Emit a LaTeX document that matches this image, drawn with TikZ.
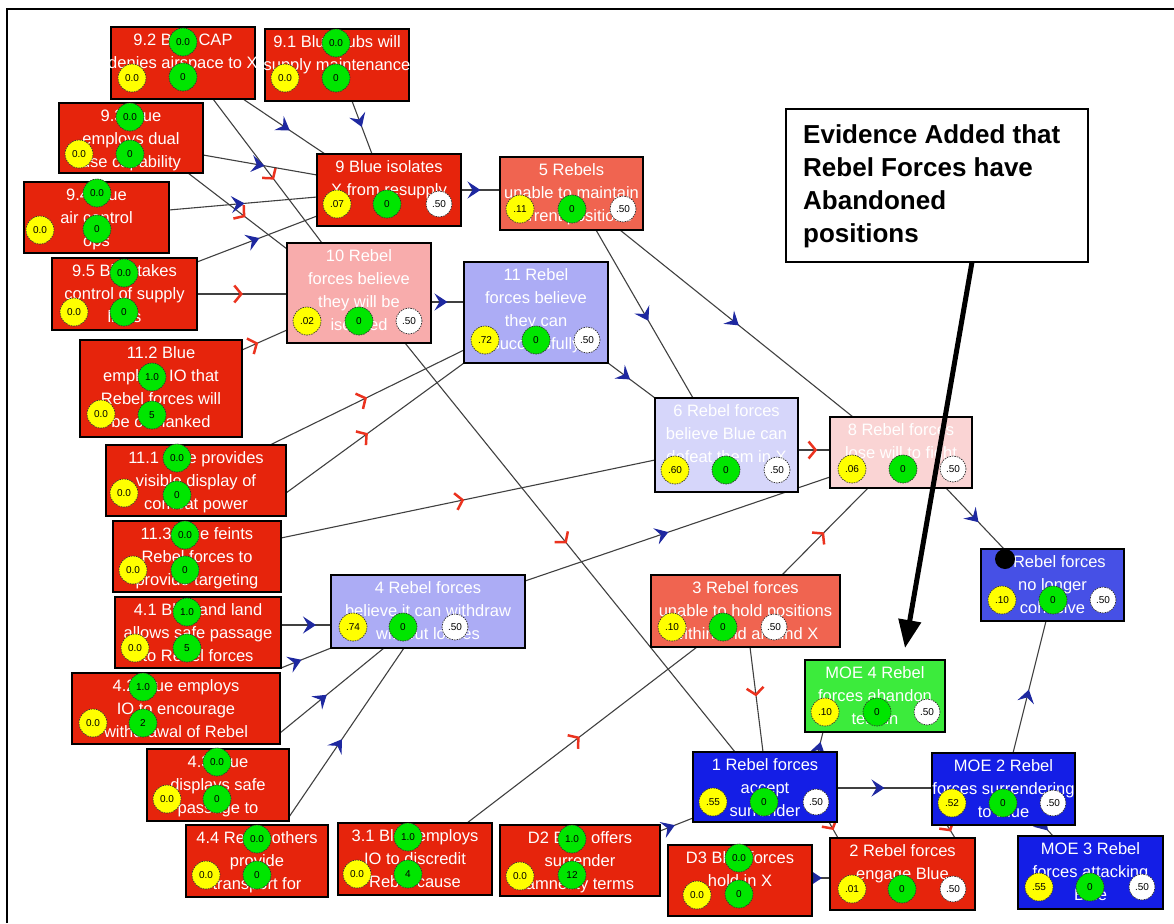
\documentclass[tikz,border=0pt]{standalone}
\usepackage{fontspec}
\setmainfont{Liberation Sans}
\usetikzlibrary{arrows.meta,decorations.markings,calc}
\pgfdeclarelayer{edges}
\pgfsetlayers{edges,main}
\definecolor{cred}{RGB}{230,36,12}
\definecolor{csalmon}{RGB}{240,100,80}
\definecolor{cpink}{RGB}{248,172,172}
\definecolor{clav}{RGB}{172,172,245}
\definecolor{cpalelav}{RGB}{214,214,250}
\definecolor{cpalepink}{RGB}{250,212,212}
\definecolor{cmblue}{RGB}{70,80,230}
\definecolor{cdblue}{RGB}{20,30,230}
\definecolor{cgreenbox}{RGB}{60,235,60}
\definecolor{cyel}{RGB}{255,255,0}
\definecolor{cgrn}{RGB}{0,230,0}
\definecolor{arrblue}{RGB}{30,40,160}
\definecolor{arrred}{RGB}{235,50,30}
\tikzset{
  box/.style={draw=black, line width=1.5pt, rectangle, inner sep=0pt, outer sep=0pt},
  lbl/.style={text=white, align=center, anchor=north, inner sep=0pt, font=\fontsize{16.5}{23}\selectfont},
  cbase/.style={circle, inner sep=0pt, draw=black!80, line width=0.7pt, dash pattern=on 1.5pt off 1pt, font=\fontsize{10}{10}\selectfont, text=black},
  yc/.style={cbase, fill=cyel, minimum size=28pt},
  gc/.style={cbase, fill=cgrn, minimum size=28pt},
  wc/.style={cbase, fill=white, minimum size=26pt},
  conn/.style={draw=black!75, line width=1.1pt},
  bm/.style={postaction={decorate}, decoration={markings, mark=at position #1 with {\arrow{Stealth[length=13pt,width=17pt,inset=5pt,color=arrblue,fill=arrblue]}}}},
  bm/.default=0.5,
  rm/.style={postaction={decorate}, decoration={markings, mark=at position #1 with {\arrow{Straight Barb[length=7pt,width=17pt,line width=2.5pt,color=arrred]}}}},
  rm/.default=0.5,
}
\newcommand\cleaf[9]{%
  \node[yc] (#1y) at (#2,#3) {#7};
  \node[gc] (#1gt) at (#4,#5) {#8};
  \node[gc] (#1gb) at (#4,#6) {#9};}
\newcommand\ctrio[6]{%
  \node[yc] (#1y) at (#2,#5) {#6};
  \node[gc] (#1g) at (#3,#5) {0};
  \node[wc] (#1w) at (#4,#5) {.50};}
\begin{document}
\begin{tikzpicture}[x=1pt,y=-1pt]
\useasboundingbox (0,0) rectangle (1174,923);
\draw[line width=2.5pt] (7,923) -- (7,9) -- (1174,9);

% ---------- boxes ----------
\node[box, fill=cred, minimum width=144pt, minimum height=72pt] (n92) at (183,63) {};
\node[box, fill=cred, minimum width=144pt, minimum height=72pt] (n91) at (337,65) {};
\node[box, fill=cred, minimum width=144pt, minimum height=70pt] (n93) at (131,138) {};
\node[box, fill=cred, minimum width=145pt, minimum height=71pt] (n94) at (96.5,217.5) {};
\node[box, fill=cred, minimum width=145pt, minimum height=72pt] (n95) at (124.5,294) {};
\node[box, fill=cred, minimum width=162pt, minimum height=97pt] (n112) at (161,388.5) {};
\node[box, fill=cred, minimum width=180pt, minimum height=71pt] (n111) at (196,480.5) {};
\node[box, fill=cred, minimum width=168pt, minimum height=71pt] (n113) at (197,556.5) {};
\node[box, fill=cred, minimum width=166pt, minimum height=71pt] (n41) at (198,632.5) {};
\node[box, fill=cred, minimum width=208pt, minimum height=71pt] (n42) at (176,708.5) {};
\node[box, fill=cred, minimum width=142pt, minimum height=72pt] (n43) at (218,785) {};
\node[box, fill=cred, minimum width=142pt, minimum height=72pt] (n44) at (257,861) {};
\node[box, fill=cred, minimum width=154pt, minimum height=72pt] (n31) at (415,859) {};
\node[box, fill=cred, minimum width=160pt, minimum height=71pt] (nD2) at (580,860.5) {};
\node[box, fill=cred, minimum width=144pt, minimum height=71pt] (nD3) at (740,880.5) {};
\node[box, fill=cred, minimum width=144pt, minimum height=72pt] (n9) at (389,190) {};
\node[box, fill=csalmon, minimum width=143pt, minimum height=73pt] (n5) at (571.5,193.5) {};
\node[box, fill=cpink, minimum width=144pt, minimum height=100pt] (n10) at (359,293) {};
\node[box, fill=clav, minimum width=144pt, minimum height=101pt] (n11) at (536,312.5) {};
\node[box, fill=cpalelav, minimum width=143pt, minimum height=94pt] (n6) at (726.5,445) {};
\node[box, fill=cpalepink, minimum width=142pt, minimum height=71pt] (n8) at (901,452.5) {};
\node[box, fill=clav, minimum width=194pt, minimum height=73pt] (n4) at (428,611.5) {};
\node[box, fill=csalmon, minimum width=189pt, minimum height=72pt] (n3) at (745.5,611) {};
\node[box, fill=cmblue, minimum width=143pt, minimum height=72pt] (n7) at (1052.5,585) {};
\node[box, fill=cgreenbox, minimum width=140pt, minimum height=72pt] (nM4) at (875,696) {};
\node[box, fill=cdblue, minimum width=144pt, minimum height=70pt] (n1) at (765,787) {};
\node[box, fill=cdblue, minimum width=143pt, minimum height=72pt] (nM2) at (1003.5,789) {};
\node[box, fill=cred, minimum width=145pt, minimum height=72pt] (n2) at (902.5,874) {};
\node[box, fill=cdblue, minimum width=145pt, minimum height=73pt] (nM3) at (1090.5,872.5) {};
\node[box, fill=white, minimum width=302pt, minimum height=153pt] (nEv) at (937,185.5) {};

% ---------- texts ----------
\node[lbl] (n92t) at ($(n92.north)+(0,6)$) {9.2 Blue CAP\\denies airspace to X};
\node[lbl] (n91t) at ($(n91.north)+(0,6)$) {9.1 Blue subs will\\supply maintenance};
\node[lbl] (n93t) at ($(n93.north)+(0,6)$) {9.3 Blue\\employs dual\\use capability};
\node[lbl] (n94t) at ($(n94.north)+(0,6)$) {9.4 Blue\\air control\\ops};
\node[lbl] (n95t) at ($(n95.north)+(0,6)$) {9.5 Blue takes\\control of supply\\lines};
\node[lbl] (n112t) at ($(n112.north)+(0,6)$) {11.2 Blue\\employs IO that\\Rebel forces will\\be outflanked};
\node[lbl] (n111t) at ($(n111.north)+(0,6)$) {11.1 Blue provides\\visible display of\\combat power};
\node[lbl] (n113t) at ($(n113.north)+(0,6)$) {11.3 Blue feints\\Rebel forces to\\provide targeting};
\node[lbl] (n41t) at ($(n41.north)+(0,6)$) {4.1 Blue and land\\allows safe passage\\to Rebel forces};
\node[lbl] (n42t) at ($(n42.north)+(0,6)$) {4.2 Blue employs\\IO to encourage\\withdrawal of Rebel};
\node[lbl] (n43t) at ($(n43.north)+(0,6)$) {4.3 Blue\\displays safe\\passage to};
\node[lbl] (n44t) at ($(n44.north)+(0,6)$) {4.4 Rebel others\\provide\\transport for};
\node[lbl] (n31t) at ($(n31.north)+(0,6)$) {3.1 Blue employs\\IO to discredit\\Rebel cause};
\node[lbl] (nD2t) at ($(nD2.north)+(0,6)$) {D2 Blue offers\\surrender\\amnesty terms};
\node[lbl] (nD3t) at ($(nD3.north)+(0,6)$) {D3 Blue forces\\hold in X};
\node[lbl] (n9t) at ($(n9.north)+(0,6)$) {9 Blue isolates\\X from resupply};
\node[lbl] (n5t) at ($(n5.north)+(0,6)$) {5 Rebels\\unable to maintain\\current positions};
\node[lbl] (n10t) at ($(n10.north)+(0,6)$) {10 Rebel\\forces believe\\they will be\\isolated};
\node[lbl] (n11t) at ($(n11.north)+(0,6)$) {11 Rebel\\forces believe\\they can\\successfully};
\node[lbl] (n6t) at ($(n6.north)+(0,6)$) {6 Rebel forces\\believe Blue can\\defeat them in X};
\node[lbl] (n8t) at ($(n8.north)+(0,6)$) {8 Rebel forces\\lose will to fight};
\node[lbl] (n4t) at ($(n4.north)+(0,6)$) {4 Rebel forces\\believe it can withdraw\\without losses};
\node[lbl] (n3t) at ($(n3.north)+(0,6)$) {3 Rebel forces\\unable to hold positions\\within and around X};
\node[lbl] (n7t) at ($(n7.north)+(0,6)$) {7 Rebel forces\\no longer\\cohesive};
\node[lbl] (nM4t) at ($(nM4.north)+(0,6)$) {MOE 4 Rebel\\forces abandon\\terrain};
\node[lbl] (n1t) at ($(n1.north)+(0,6)$) {1 Rebel forces\\accept\\surrender};
\node[lbl] (nM2t) at ($(nM2.north)+(0,6)$) {MOE 2 Rebel\\forces surrendering\\to Blue};
\node[lbl] (n2t) at ($(n2.north)+(0,6)$) {2 Rebel forces\\engage Blue};
\node[lbl] (nM3t) at ($(nM3.north)+(0,6)$) {MOE 3 Rebel\\forces attacking\\Blue};
\node[anchor=north west, inner sep=0pt, align=left, font=\fontsize{26}{33}\selectfont\bfseries] (nEvt) at (803,124) {Evidence Added that\\Rebel Forces have\\Abandoned\\positions};

% ---------- circles ----------
\cleaf{n92}{132}{78}{183}{42}{77}{0.0}{0.0}{0}
\cleaf{n91}{285}{78}{336}{43}{78}{0.0}{0.0}{0}
\cleaf{n93}{79}{154}{130}{117}{154}{0.0}{0.0}{0}
\cleaf{n94}{40}{230}{97}{193}{229}{0.0}{0.0}{0}
\cleaf{n95}{74}{312}{124}{273}{312}{0.0}{0.0}{0}
\cleaf{n112}{101}{414}{152}{377}{415}{0.0}{1.0}{5}
\cleaf{n111}{124}{493}{177}{458}{495}{0.0}{0.0}{0}
\cleaf{n113}{133}{570}{185}{535}{570}{0.0}{0.0}{0}
\cleaf{n41}{135}{648}{187}{612}{648}{0.0}{1.0}{5}
\cleaf{n42}{93}{723}{143}{687}{723}{0.0}{1.0}{2}
\cleaf{n43}{167}{799}{217}{762}{799}{0.0}{0.0}{0}
\cleaf{n44}{206}{875}{257}{839}{875}{0.0}{0.0}{0}
\cleaf{n31}{357}{874}{408}{837}{874}{0.0}{1.0}{4}
\cleaf{nD2}{520}{876}{572}{839}{875}{0.0}{1.0}{12}
\cleaf{nD3}{697}{895}{739}{858}{894}{0.0}{0.0}{0}
\ctrio{n9}{337}{387}{439}{204}{.07}
\ctrio{n5}{520}{572}{623}{209}{.11}
\ctrio{n10}{307}{359}{409}{321}{.02}
\ctrio{n11}{485}{536}{587}{340}{.72}
\ctrio{n6}{675}{726}{777}{470}{.60}
\ctrio{n8}{852}{903}{953}{469}{.06}
\ctrio{n4}{353}{403}{455}{627}{.74}
\ctrio{n3}{672}{723}{774}{627}{.10}
\ctrio{n7}{1002}{1053}{1103}{600}{.10}
\ctrio{nM4}{825}{877}{927}{712}{.10}
\ctrio{n1}{713}{764}{816}{802}{.55}
\ctrio{nM2}{952}{1003}{1053}{803}{.52}
\ctrio{n2}{852}{902}{953}{889}{.01}
\ctrio{nM3}{1039}{1090}{1142}{887}{.55}
\node[circle, fill=black, minimum size=20pt, inner sep=0pt] (n7dot) at (1005,559) {};

% ---------- connectors ----------
\begin{pgfonlayer}{edges}
\draw[conn, bm=0.57] ($(n92.south west)+(132,0)$) -- ($(n9.north west)+(8,0)$);
\draw[conn, bm=0.49] ($(n91.south west)+(87,0)$) -- ($(n9.north west)+(55,0)$);
\draw[conn, rm=0.56] ($(n92.south west)+(102,0)$) -- ($(n10.north west)+(35,0)$);
\draw[conn, bm=0.54] ($(n93.north east)+(0,52)$) -- ($(n9.north west)+(0,21)$);
\draw[conn, rm=0.58] ($(n93.south west)+(129,0)$) -- ($(n10.north west)+(0,6)$);
\draw[conn, bm=0.51] ($(n94.north east)+(0,28)$) -- ($(n9.north west)+(0,43)$);
\draw[conn, bm=0.52] ($(n95.north east)+(0,4)$) -- ($(n9.north west)+(0,62)$);
\draw[conn, rm=0.51] (n95.east) -- (n95.east -| n10.west);
\draw[conn, rm=0.36] ($(n112.north east)+(0,10)$) -- ($(n10.south west)+(0,-13)$);
\draw[conn, bm=0.5] ($(n10.north east)+(0,59)$) -- ($(n11.north west)+(0,40)$);
\draw[conn, bm=0.5] (n9.east) -- (n9.east -| n5.west);
\draw[conn, rm=0.49] ($(n10.south west)+(118,0)$) -- ($(n1.north west)+(42,0)$);
\draw[conn, rm=0.5] ($(n111.north west)+(164,0)$) -- ($(n11.south west)+(0,-13)$);
\draw[conn, rm=0.46] ($(n111.north east)+(0,48)$) -- (n11.south west);
\draw[conn, rm=0.49] ($(n113.north east)+(0,17)$) -- ($(n6.north west)+(0,62)$);
\draw[conn, bm=0.47] (n11.south east) -- (n6.north west);
\draw[conn, bm=0.54] ($(n5.south west)+(96,0)$) -- ($(n6.north west)+(38,0)$);
\draw[conn, bm=0.51] ($(n5.south west)+(120,0)$) -- ($(n8.north west)+(23,0)$);
\draw[conn, rm=0.6] ($(n6.north east)+(0,52)$) -- ($(n8.north west)+(0,33)$);
\draw[conn, bm=0.47] ($(n4.north east)+(0,6)$) -- ($(n8.south west)+(0,-11)$);
\draw[conn, rm=0.49] ($(n3.north west)+(131,0)$) -- ($(n8.south west)+(38,0)$);
\draw[conn, bm=0.56] ($(n8.south east)+(-26,0)$) -- ($(n7.north west)+(23,0)$);
\draw[conn, bm=0.7] ($(n41.north east)+(0,28)$) -- ($(n4.north west)+(0,50)$);
\draw[conn, bm=0.41] (n41.south east) -- (n4.south west);
\draw[conn, bm=0.45] ($(n42.north east)+(0,60)$) -- ($(n4.south west)+(53,0)$);
\draw[conn, bm=0.46] ($(n43.south east)+(0,-4)$) -- ($(n4.south west)+(73,0)$);
\draw[conn, rm=0.49] ($(n31.north west)+(129,0)$) -- ($(n3.south west)+(46,0)$);
\draw[conn, bm=0.45] ($(nD2.north east)+(0,6)$) -- ($(n1.south west)+(0,-4)$);
\draw[conn, bm=0.55] ($(nD3.north east)+(0,33)$) -- ($(n2.north west)+(0,40)$);
\draw[conn, rm=0.47] ($(n3.south west)+(99,0)$) -- ($(n1.north west)+(70,0)$);
\draw[conn, bm=0.5] ($(n1.north east)+(-19,0)$) -- ($(nM4.south west)+(18,0)$);
\draw[conn, bm=0.5] ($(n1.north east)+(0,36)$) -- ($(nM2.north west)+(0,35)$);
\draw[conn, rm=0.5] ($(n1.south east)+(-8,0)$) -- ($(n2.north west)+(8,0)$);
\draw[conn, rm=0.5] ($(nM2.south west)+(15,0)$) -- ($(n2.north east)+(-20,0)$);
\draw[conn, bm=0.5] ($(nM2.south west)+(111,0)$) -- ($(nM3.north west)+(35,0)$);
\draw[conn, bm=0.48] ($(nM2.north west)+(81,0)$) -- ($(n7.south west)+(65,0)$);
\end{pgfonlayer}

% ---------- evidence arrow ----------
\draw[line width=5pt, -{Triangle[length=28pt,width=22pt]}] ($(nEv.south west)+(186,0)$) -- ($(nM4.north west)+(100,-12)$);
\end{tikzpicture}
\end{document}
